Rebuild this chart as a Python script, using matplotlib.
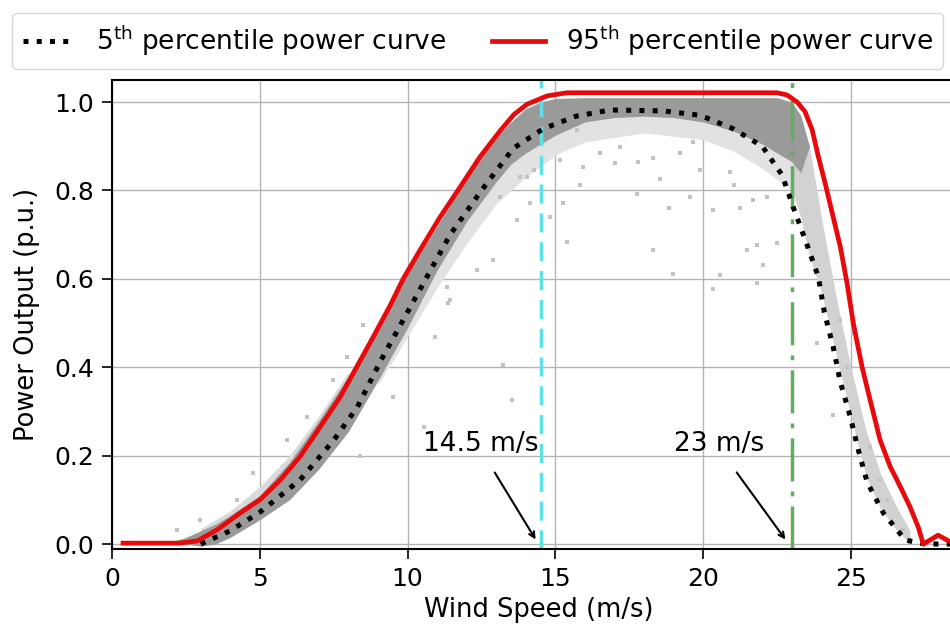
# Wind speed vs power output with the 5th / 95th percentile power curves

import matplotlib.pyplot as plt
import numpy as np

# 95th percentile power curve (red)
p95_speed = [0.37, 2.3, 2.88, 3.55, 4.33, 5.0, 5.69, 6.36, 7.04, 7.72, 8.28, 8.84,
             9.41, 9.85, 10.42, 11.1, 11.7, 12.45, 13.13, 13.6, 14.04, 14.72, 15.4,
             22.5, 22.84, 23.18, 23.45, 23.69, 23.9, 24.13, 24.4, 24.64, 24.87,
             25.08, 25.38, 25.65, 25.99, 26.33, 26.67, 27.0, 27.28, 27.45, 27.68,
             27.95, 28.25, 28.4]
p95_power = [0.002, 0.002, 0.007, 0.032, 0.07, 0.1, 0.145, 0.198, 0.265, 0.333,
             0.401, 0.469, 0.54, 0.60, 0.665, 0.74, 0.80, 0.876, 0.935, 0.972, 0.995,
             1.014, 1.021, 1.021, 1.016, 1.0, 0.978, 0.937, 0.876, 0.816, 0.74,
             0.673, 0.59, 0.50, 0.40, 0.326, 0.235, 0.175, 0.13, 0.084, 0.038, 0.0,
             0.009, 0.02, 0.009, 0.004]

# 5th percentile power curve (black dotted)
p5_speed = [3.0, 4.0, 5.0, 6.36, 7.5, 8.3, 9.1, 10.0, 11.44, 12.5, 13.57, 14.6, 15.7,
            16.85, 18.65, 19.9, 21.0, 22.0, 22.67, 23.05, 23.5, 23.9, 24.1, 24.4,
            24.64, 24.97, 25.25, 25.55, 26.1, 26.84, 27.5, 28.4]
p5_power = [0.0, 0.03, 0.072, 0.145, 0.235, 0.31, 0.416, 0.525, 0.70, 0.80, 0.895,
            0.94, 0.968, 0.982, 0.98, 0.97, 0.94, 0.90, 0.835, 0.762, 0.68, 0.604,
            0.525, 0.446, 0.367, 0.29, 0.213, 0.14, 0.07, 0.009, 0.0, 0.0]

# dense cloud of measurements (upper / lower edge)
band_speed = [2.0, 2.5, 3.0, 3.5, 4.0, 5.0, 6.0, 7.0, 8.0, 9.0, 10.0, 11.0, 12.0,
              13.0, 13.5, 14.0, 14.5, 15.0, 16.0, 17.0, 18.0, 19.0, 20.0, 21.0,
              22.0, 22.5, 23.0, 23.3, 23.6]
band_high = [0.005, 0.015, 0.03, 0.045, 0.065, 0.11, 0.185, 0.28, 0.38, 0.50,
             0.615, 0.72, 0.83, 0.92, 0.955, 0.985, 1.0, 1.008, 1.01, 1.01, 1.01,
             1.01, 1.01, 1.01, 1.01, 1.01, 1.0, 0.97, 0.9]
band_low = [0.0, 0.0, -0.005, 0.0, 0.015, 0.055, 0.1, 0.17, 0.255, 0.37, 0.49, 0.62,
            0.73, 0.82, 0.86, 0.885, 0.905, 0.925, 0.955, 0.965, 0.968, 0.965, 0.955,
            0.935, 0.905, 0.885, 0.865, 0.84, 0.9]

# lighter, sparser points around the dense cloud
fringe_speed = [9.0, 10.0, 11.0, 12.0, 13.0, 14.0, 15.0, 16.0, 18.0, 20.0,
                21.0, 22.0, 23.0]
fringe_low = [0.36, 0.47, 0.58, 0.68, 0.77, 0.83, 0.88, 0.91, 0.93, 0.915,
              0.89, 0.85, 0.8]
fringe_high = [0.42, 0.54, 0.65, 0.75, 0.84, 0.9, 0.95, 0.97, 0.98, 0.97,
               0.95, 0.92, 0.88]
top_fringe_speed = [3.0, 4.0, 5.0, 6.0, 7.0, 8.0]
top_fringe_low = [0.01, 0.04, 0.08, 0.15, 0.24, 0.34]
top_fringe_high = [0.035, 0.075, 0.13, 0.2, 0.29, 0.39]

# sparser measurements between the two curves after cut-out starts
tail_speed = [23.0, 23.3, 23.6, 24.0, 24.5, 25.0, 25.5, 26.0, 26.5, 27.0]
tail_low = [0.8, 0.74, 0.65, 0.57, 0.43, 0.29, 0.155, 0.08, 0.035, 0.0]
tail_high = [0.9, 0.95, 0.9, 0.74, 0.56, 0.40, 0.26, 0.16, 0.09, 0.03]

# scattered outliers
out_speed = [15.27, 15.84, 15.39, 14.82, 13.69, 18.32, 18.99, 20.35, 20.57, 18.83,
             17.76, 19.56, 18.54, 17.02, 17.81, 18.32, 16.51, 17.19, 19.22, 19.90,
             20.35, 21.03, 21.25, 21.70, 21.48, 21.82, 22.04, 21.82, 22.49, 22.16,
             20.91, 19.67, 15.95, 15.16, 15.73, 14.82, 14.26, 13.81, 11.33, 11.44,
             12.34, 12.90, 14.15, 13.13, 14.03, 13.24, 13.52, 10.54, 9.52, 10.93,
             11.38, 8.39, 6.59, 7.49, 7.94, 4.78, 4.22, 2.98, 2.19, 5.91, 8.5,
             23.85, 24.41, 25.08, 25.65, 25.99, 26.22, 26.78, 24.86, 24.64]
out_power = [0.771, 0.812, 0.684, 0.740, 0.733, 0.665, 0.612, 0.578, 0.609, 0.760,
             0.793, 0.786, 0.827, 0.861, 0.865, 0.873, 0.884, 0.899, 0.884, 0.846,
             0.756, 0.812, 0.760, 0.778, 0.665, 0.676, 0.631, 0.590, 0.680, 0.786,
             0.842, 0.910, 0.854, 0.869, 0.937, 0.921, 0.846, 0.831, 0.582, 0.552,
             0.620, 0.643, 0.771, 0.786, 0.831, 0.405, 0.326, 0.265, 0.333, 0.469,
             0.545, 0.198, 0.288, 0.371, 0.424, 0.16, 0.10, 0.054, 0.032, 0.235, 0.495,
             0.454, 0.292, 0.477, 0.220, 0.145, 0.100, 0.032, 0.401, 0.507]

cut_lines = [14.5, 23.0]
cut_labels = ['14.5 m/s', '23 m/s']

fig = plt.figure(figsize=(9.5, 6.33), dpi=100)
ax = fig.add_axes([0.118, 0.1327, 0.899, 0.741])

# measurement cloud
ax.fill_between(fringe_speed, fringe_low, fringe_high, color='#e2e2e2', lw=0, zorder=1)
ax.fill_between(top_fringe_speed, top_fringe_low, top_fringe_high, color='#dadada',
                lw=0, zorder=1)
ax.fill_between(tail_speed, tail_low, tail_high, color='#d2d2d2', lw=0, zorder=1)
ax.fill_between(band_speed, band_low, band_high, color='#9a9a9a', lw=0, zorder=1.5)
ax.scatter(out_speed, out_power, s=7, marker='s', color='#c2c2c2', lw=0, zorder=1)

# cut-out markers
ax.axvline(cut_lines[0], color='#5ee0e8', lw=2.5, dashes=(5.5, 2.8), zorder=2)
ax.axvline(cut_lines[1], color='#62ad62', lw=2.5,
           linestyle=(0, (12.4, 2.9, 1.4, 2.9)), zorder=2)

# percentile curves
l5, = ax.plot(p5_speed, p5_power, color='black', ls=':', lw=3.6, zorder=4)
l95, = ax.plot(p95_speed, p95_power, color='#e8090c', lw=3.4, zorder=4)

# annotations
ax.text(12.49, 0.197, cut_labels[0], fontsize=19, ha='center', va='bottom')
ax.annotate('', xy=(14.38, 0.005), xytext=(12.9, 0.167),
            arrowprops=dict(arrowstyle='->', color='black', lw=1.5))
ax.text(20.54, 0.197, cut_labels[1], fontsize=19, ha='center', va='bottom')
ax.annotate('', xy=(22.84, 0.005), xytext=(21.08, 0.167),
            arrowprops=dict(arrowstyle='->', color='black', lw=1.5))

ax.set_xlim(0, 28.9)
ax.set_ylim(-0.0113, 1.05)
ax.set_xticks([0, 5, 10, 15, 20, 25])
ax.set_yticks([0.0, 0.2, 0.4, 0.6, 0.8, 1.0])
ax.set_axisbelow(True)
ax.grid(color='#b4b4b4', lw=1.0)
ax.tick_params(labelsize=18, length=7, width=1.2, pad=6)
for s in ax.spines.values():
    s.set_linewidth(1.5)

ax.set_xlabel('Wind Speed (m/s)', fontsize=18.5, labelpad=4)
ax.set_ylabel('Power Output (p.u.)', fontsize=18.5, labelpad=10)

fig.legend([l5, l95],
           [r'5$^{\mathrm{th}}$ percentile power curve',
            r'95$^{\mathrm{th}}$ percentile power curve'],
           loc='upper left', bbox_to_anchor=(12 / 950, 1 - 13 / 633),
           borderaxespad=0, ncol=2, fontsize=19, columnspacing=1.7,
           handlelength=2.0)

fig.savefig('out.png', dpi=100)
